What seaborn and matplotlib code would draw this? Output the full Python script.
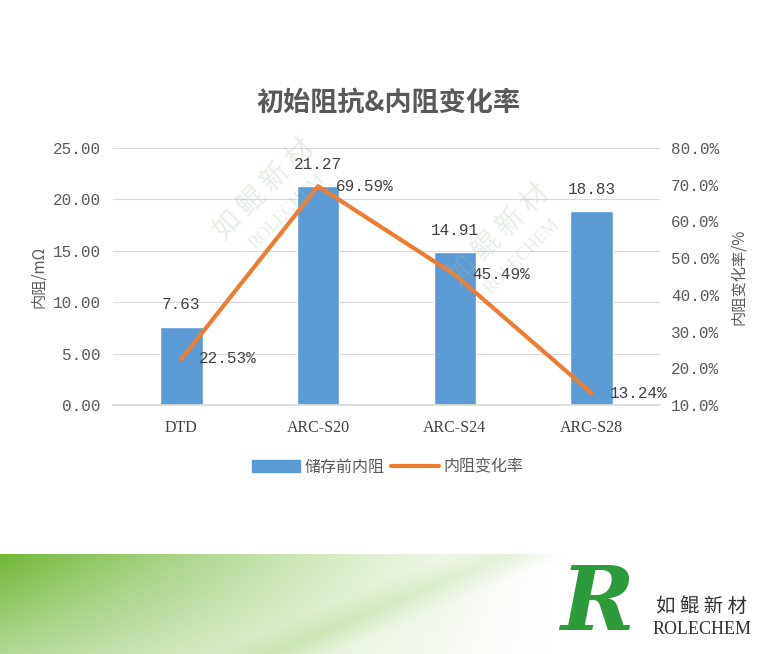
import numpy as np
import matplotlib
matplotlib.use("Agg")
import matplotlib.pyplot as plt
from matplotlib.lines import Line2D
from matplotlib.patches import Patch
import seaborn as sns

categories = ["DTD", "ARC-S20", "ARC-S24", "ARC-S28"]
resistance = [7.63, 21.27, 14.91, 18.83]
change_rate = [22.53, 69.59, 45.49, 13.24]
left_ticks = [0, 5, 10, 15, 20, 25]
right_ticks = [10, 20, 30, 40, 50, 60, 70, 80]

sns.set_theme(style="white")
plt.rcParams['font.family'] = ['Noto Sans CJK SC', 'DejaVu Sans']

blue = "#5B9BD5"
orange = "#ED7D31"
txt = "#595959"
mono = ['Liberation Mono', 'DejaVu Sans Mono']

fig = plt.figure(figsize=(7.81, 6.54), dpi=100)
fig.patch.set_facecolor("white")

# bottom banner gradient
bax = fig.add_axes([0, 0, 1, 100 / 654])
gx = np.linspace(0, 1, 400)
gy = np.linspace(0, 1, 60)
X, Y = np.meshgrid(gx, gy)
a = np.clip(1 - X / 0.7, 0, 1) ** 1.3 * (0.55 + 0.45 * Y)
a += 0.15 * np.clip(1 - np.abs(X - 0.35 - 0.3 * Y) / 0.08, 0, 1)
a = np.clip(a, 0, 1)
g = np.array([0.45, 0.72, 0.22])
img = 1 - a[..., None] * (1 - g)
bax.imshow(img, aspect="auto", extent=[0, 1, 0, 1], origin="lower")
bax.set_axis_off()

# logo
fig.text(597 / 781, 1 - 605 / 654, "R", fontsize=64, color="#2E9B3A",
         family="DejaVu Serif", style="italic", weight="bold",
         ha="center", va="center")
fig.text(702 / 781, 1 - 606 / 654, "如 鲲 新 材", fontsize=14, color="#333333",
         ha="center", va="center")
fig.text(702 / 781, 1 - 630 / 654, "ROLECHEM", fontsize=13, color="#333333",
         family="Liberation Serif", ha="center", va="center")

# watermark text
for (x, y) in [(265, 190), (500, 235)]:
    fig.text(x / 781, 1 - y / 654, "如 鲲 新 材", fontsize=20, color="#9DBF9D",
             alpha=0.25, rotation=45, ha="center", va="center")
    fig.text((x + 22) / 781, 1 - (y + 22) / 654, "ROLECHEM", fontsize=13,
             color="#9DBF9D", alpha=0.25, rotation=45, family="Liberation Serif",
             ha="center", va="center")

ax = fig.add_axes([113 / 781, 1 - 405 / 654, 547 / 781, 257 / 654])
ax.patch.set_alpha(0)
sns.barplot(x=categories, y=resistance, color=blue, width=0.31, saturation=1,
            ax=ax, zorder=2)
ax.set_ylim(0, 25)
ax.set_xlim(-0.5, 3.5)
ax.set_yticks(left_ticks)
ax.set_yticklabels(["%.2f" % t for t in left_ticks], family=mono, fontsize=11.5,
                   color=txt)
ax.tick_params(axis="y", length=0, pad=9)
ax.tick_params(axis="x", length=0, pad=11)
ax.set_xticks(range(len(categories)))
ax.set_xticklabels(categories, family='Liberation Serif', fontsize=11.5,
                   color="#404040")
ax.grid(axis="y", color="#D9D9D9", lw=0.8)
ax.set_axisbelow(True)
for s in ["top", "left", "right"]:
    ax.spines[s].set_visible(False)
ax.spines["bottom"].set_color("#D9D9D9")
ax.set_ylabel("内阻/mΩ", fontsize=11, color=txt, labelpad=4)
for i, v in enumerate(resistance):
    ax.text(i, v + 2.1, "%.2f" % v, ha="center", va="center", family=mono,
            fontsize=11.5, color="#404040")

ax2 = ax.twinx()
sns.lineplot(x=categories, y=change_rate, color=orange, lw=3, sort=False,
             ax=ax2, zorder=3)
ax2.set_ylim(10, 80)
ax2.set_yticks(right_ticks)
ax2.set_yticklabels(["%.1f%%" % t for t in right_ticks], family=mono,
                    fontsize=11.5, color=txt)
ax2.tick_params(axis="y", length=0, pad=8)
for s in ax2.spines.values():
    s.set_visible(False)
ax2.grid(False)
ax2.set_ylabel("内阻变化率/%", fontsize=11, color=txt, labelpad=8)
for i, v in enumerate(change_rate):
    ax2.text(i + 0.13, v, "%.2f%%" % v, ha="left", va="center", family=mono,
             fontsize=11.5, color="#404040")

fig.text(388 / 781, 1 - 103 / 654, "初始阻抗&内阻变化率", fontsize=19.5,
         weight="bold", color="#595959", ha="center", va="center")

handles = [Patch(color=blue), Line2D([0], [0], color=orange, lw=3)]
fig.legend(handles, ["储存前内阻", "内阻变化率"], loc="center",
           bbox_to_anchor=(388 / 781, 1 - 467 / 654), ncol=2, frameon=False,
           fontsize=11.5, handlelength=3.0, handleheight=0.8, columnspacing=0.4,
           handletextpad=0.3, labelcolor=txt)

fig.savefig("out.png", dpi=100, facecolor="white")
